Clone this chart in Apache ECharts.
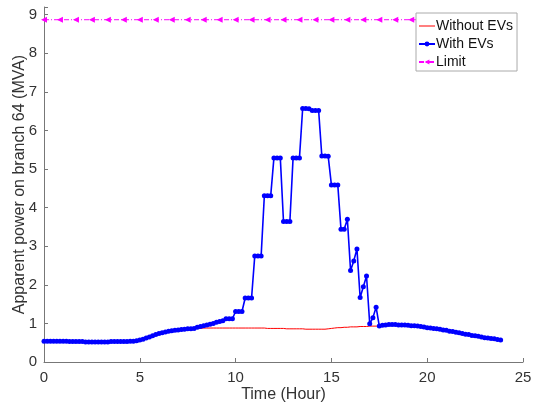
<!DOCTYPE html>
<html>
<head>
<meta charset="utf-8">
<script src="https://cdn.jsdelivr.net/npm/echarts@6/dist/echarts.min.js"></script>
<style>
  html, body { margin: 0; padding: 0; background: #fff; }
  #branchChart { width: 542px; height: 410px; }
</style>
</head>
<body>
<div id="branchChart"></div>
<script>
// 10-minute samples, 0 .. 23.83 h
var timeStep = 1 / 6
// apparent power on branch 64 (MVA), one row per hour
var withoutEVs = [
  0.54, 0.54, 0.54, 0.54, 0.54, 0.54,
  0.54, 0.54, 0.53, 0.53, 0.53, 0.53,
  0.53, 0.52, 0.52, 0.52, 0.52, 0.52,
  0.52, 0.52, 0.52, 0.53, 0.53, 0.53,
  0.53, 0.53, 0.53, 0.54, 0.54, 0.55,
  0.57, 0.59, 0.62, 0.65, 0.68, 0.71,
  0.74, 0.76, 0.78, 0.80, 0.81, 0.82,
  0.83, 0.84, 0.85, 0.86, 0.86, 0.87,
  0.87, 0.87, 0.88, 0.88, 0.88, 0.88,
  0.88, 0.88, 0.88, 0.88, 0.88, 0.88,
  0.88, 0.88, 0.88, 0.88, 0.88, 0.88,
  0.88, 0.88, 0.88, 0.88, 0.87, 0.87,
  0.87, 0.87, 0.87, 0.87, 0.86, 0.86,
  0.86, 0.86, 0.86, 0.86, 0.85, 0.85,
  0.85, 0.85, 0.85, 0.85, 0.85, 0.86,
  0.87, 0.88, 0.89, 0.89, 0.90, 0.90,
  0.91, 0.91, 0.91, 0.92, 0.92, 0.92,
  0.93, 0.93, 0.93, 0.93, 0.95, 0.96,
  0.97, 0.97, 0.97, 0.96, 0.96, 0.96,
  0.95, 0.94, 0.94, 0.93, 0.92, 0.91,
  0.89, 0.88, 0.87, 0.86, 0.85, 0.83,
  0.82, 0.80, 0.79, 0.77, 0.76, 0.74,
  0.72, 0.71, 0.69, 0.68, 0.67, 0.65,
  0.63, 0.62, 0.61, 0.60, 0.58, 0.57
]
var withEVs = [
  0.54, 0.54, 0.54, 0.54, 0.54, 0.54,
  0.54, 0.54, 0.53, 0.53, 0.53, 0.53,
  0.53, 0.52, 0.52, 0.52, 0.52, 0.52,
  0.52, 0.52, 0.52, 0.53, 0.53, 0.53,
  0.53, 0.53, 0.53, 0.54, 0.54, 0.55,
  0.57, 0.59, 0.62, 0.65, 0.68, 0.71,
  0.74, 0.76, 0.78, 0.80, 0.81, 0.82,
  0.83, 0.84, 0.85, 0.86, 0.86, 0.87,
  0.90, 0.92, 0.94, 0.96, 0.98, 1.00,
  1.03, 1.05, 1.07, 1.12, 1.12, 1.12,
  1.31, 1.31, 1.31, 1.66, 1.66, 1.66,
  2.75, 2.75, 2.75, 4.31, 4.31, 4.31,
  5.29, 5.29, 5.29, 3.64, 3.64, 3.64,
  5.29, 5.29, 5.29, 6.57, 6.57, 6.56,
  6.52, 6.52, 6.52, 5.34, 5.34, 5.33,
  4.59, 4.59, 4.59, 3.44, 3.44, 3.70,
  2.37, 2.62, 2.93, 1.67, 1.95, 2.23,
  0.99, 1.15, 1.42, 0.93, 0.95, 0.96,
  0.97, 0.97, 0.97, 0.96, 0.96, 0.96,
  0.95, 0.94, 0.94, 0.93, 0.92, 0.91,
  0.89, 0.88, 0.87, 0.86, 0.85, 0.83,
  0.82, 0.80, 0.79, 0.77, 0.76, 0.74,
  0.72, 0.71, 0.69, 0.68, 0.67, 0.65,
  0.63, 0.62, 0.61, 0.60, 0.58, 0.57
]
var limitValue = 8.87
var limitEvery = 5
var xTicks = [0, 5, 10, 15, 20, 25]
var yTicks = [0, 1, 2, 3, 4, 5, 6, 7, 8, 9]
var seriesNames = ['Without EVs', 'With EVs', 'Limit']

var font = 'Liberation Sans, Arial, Helvetica, sans-serif'
// plain line icon for the legend (tiny corner dots keep the box 16x6)
var lineIcon = 'path://M0,0h0.01v0.01h-0.01z M0,2.5h16v1h-16z M15.99,5.99h0.01v0.01h-0.01z'

function pairs (values) {
  return values.map(function (v, i) {
    return [i * timeStep, v]
  })
}
var limitData = []
for (var i = 0; i < withEVs.length; i += limitEvery) {
  limitData.push([i * timeStep, limitValue])
}

var myChart = echarts.init(document.getElementById('branchChart'))
var option = {
  animation: false,
  backgroundColor: '#fff',
  textStyle: { fontFamily: font },
  grid: { left: 44, right: 19, top: 7, bottom: 48, outerBoundsMode: 'none', containLabel: false },
  legend: {
    orient: 'vertical',
    left: 416,
    top: 13,
    data: [
      { name: seriesNames[0], icon: lineIcon },
      { name: seriesNames[1] },
      { name: seriesNames[2] }
    ],
    backgroundColor: '#fff',
    borderColor: '#aaa',
    borderWidth: 1,
    borderRadius: 0,
    padding: [6, 4, 2, 2],
    itemGap: 4,
    itemWidth: 16,
    itemHeight: 6,
    symbolKeepAspect: false,
    textStyle: { color: '#111', fontSize: 14, fontFamily: font, padding: [0, 0, 0, -4] }
  },
  xAxis: {
    type: 'value',
    min: xTicks[0],
    max: xTicks[xTicks.length - 1],
    interval: 5,
    name: 'Time (Hour)',
    nameLocation: 'middle',
    nameGap: 25,
    nameMoveOverlap: false,
    nameTextStyle: { color: '#333', fontSize: 16, fontFamily: font },
    axisLine: { lineStyle: { color: '#777', width: 1 } },
    axisTick: { inside: true, length: 4, lineStyle: { color: '#777' } },
    axisLabel: { color: '#333', fontSize: 15, fontFamily: font, margin: 8 },
    splitLine: { show: false }
  },
  yAxis: {
    type: 'value',
    min: yTicks[0],
    max: 9.2,
    interval: 1,
    name: 'Apparent power on branch 64 (MVA)',
    nameLocation: 'middle',
    nameGap: 16,
    nameMoveOverlap: false,
    nameTextStyle: { color: '#333', fontSize: 16, fontFamily: font },
    axisLine: { show: true, lineStyle: { color: '#777', width: 1 } },
    axisTick: { show: true, inside: true, length: 4, lineStyle: { color: '#777' } },
    axisLabel: {
      color: '#333',
      fontSize: 15,
      fontFamily: font,
      margin: 7,
      formatter: function (v) {
        return yTicks.indexOf(v) >= 0 ? String(v) : ''
      }
    },
    splitLine: { show: false }
  },
  series: [
    {
      name: seriesNames[0],
      type: 'line',
      data: pairs(withoutEVs),
      showSymbol: false,
      symbol: 'none',
      color: '#ff0000',
      lineStyle: { color: '#ff0000', width: 1 },
      z: 2
    },
    {
      name: seriesNames[1],
      type: 'line',
      data: pairs(withEVs),
      symbol: 'circle',
      symbolSize: 5,
      showAllSymbol: true,
      color: '#0000ff',
      itemStyle: { color: '#0000ff' },
      lineStyle: { color: '#0000ff', width: 1.6 },
      z: 3
    },
    {
      name: seriesNames[2],
      type: 'line',
      data: limitData,
      symbol: 'triangle',
      symbolRotate: 90,
      symbolSize: 6,
      showAllSymbol: true,
      color: '#ff00ff',
      itemStyle: { color: '#ff00ff' },
      lineStyle: { color: '#ff00ff', width: 1, type: [5, 2, 1, 2] },
      z: 3
    }
  ]
}
myChart.setOption(option)
</script>
</body>
</html>
